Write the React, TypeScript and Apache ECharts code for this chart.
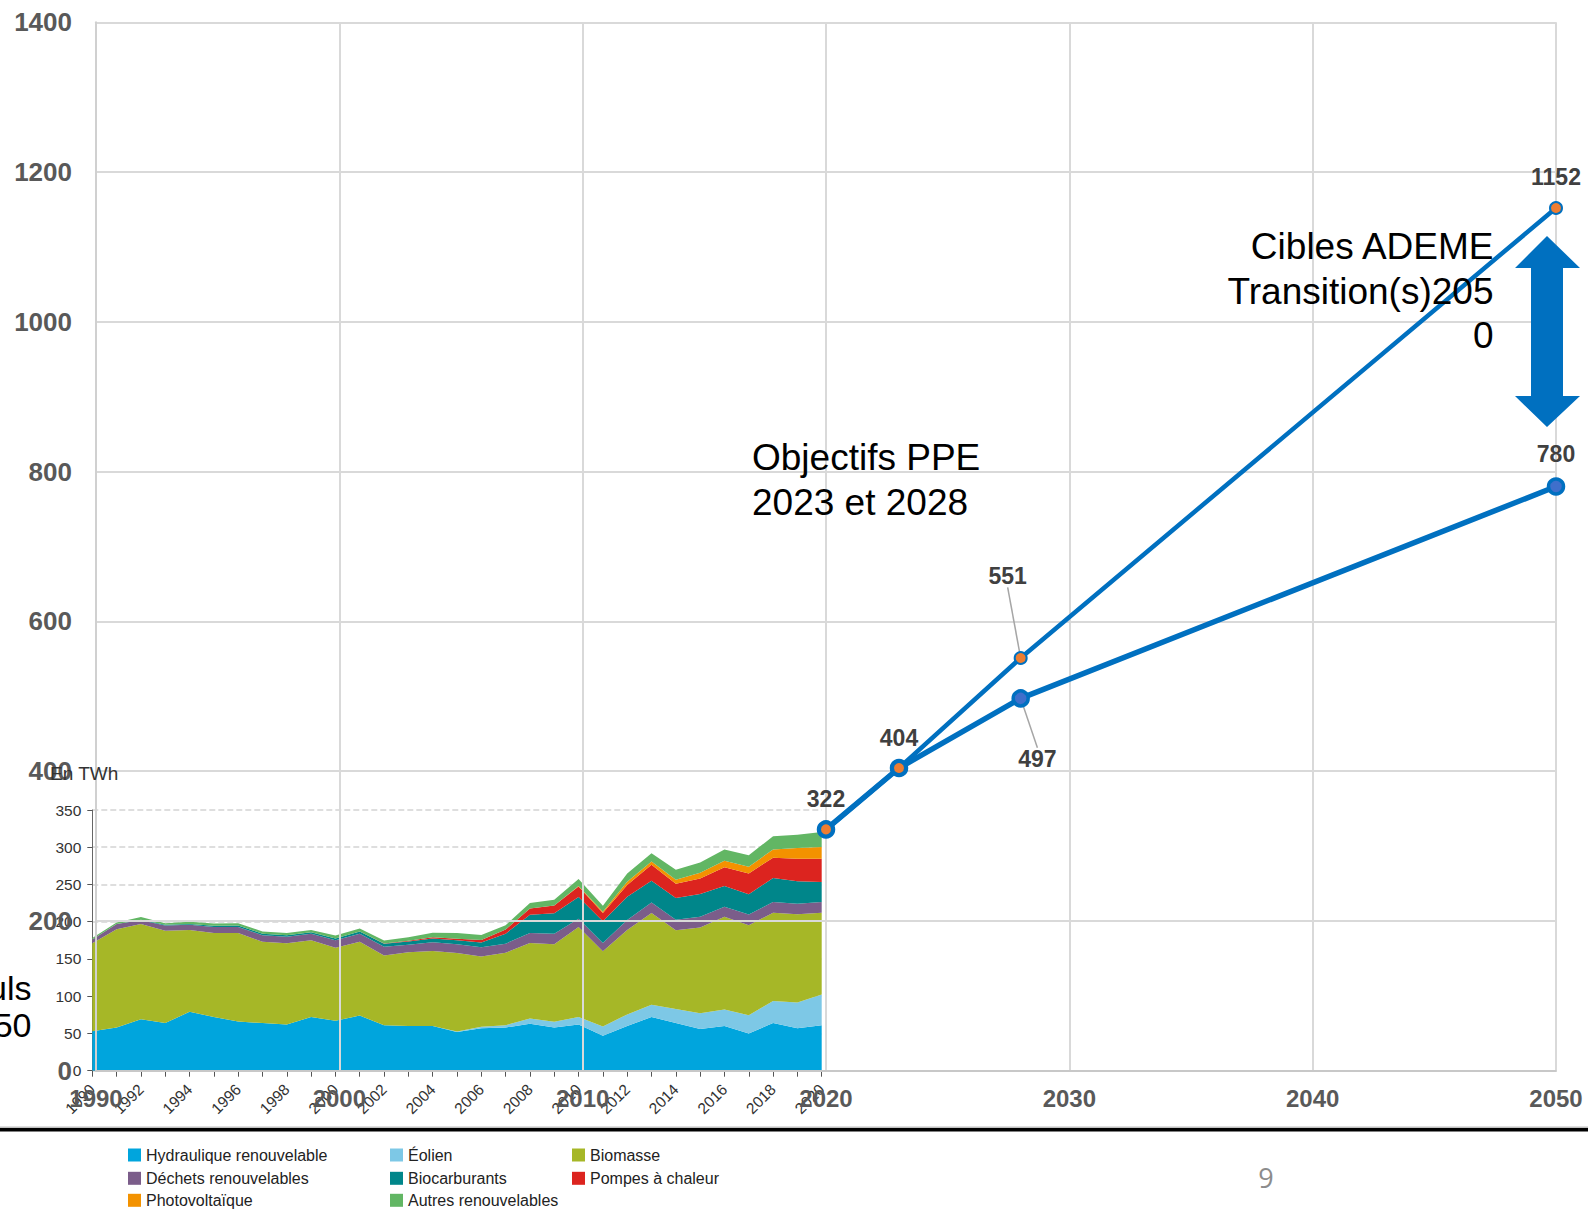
import React, { useEffect, useRef } from 'react';
import * as echarts from 'echarts';

// ---- Inset (historical production, TWh) ----
const insetYears = [
  '1990', '1991', '1992', '1993', '1994', '1995', '1996', '1997', '1998', '1999',
  '2000', '2001', '2002', '2003', '2004', '2005', '2006', '2007', '2008', '2009',
  '2010', '2011', '2012', '2013', '2014', '2015', '2016', '2017', '2018', '2019', '2020',
];
const hydraulique = [53, 58, 69, 64, 79, 72, 66, 64, 62, 72, 67, 74, 61, 60, 60, 52, 57, 58, 63, 58, 62, 47, 60, 72, 64, 56, 60, 50, 64, 57, 61];
const eolien = [0, 0, 0, 0, 0, 0, 0, 0, 0, 0, 0, 0, 0, 0, 0, 0.5, 2, 3, 7, 7.6, 10, 12.5, 15.6, 16.5, 18.8, 21, 22.3, 24.6, 29.6, 34.4, 41.2];
const biomasse = [118, 132, 128, 124, 110, 113, 119, 109, 109, 103, 98, 99, 93.5, 99, 100.6, 105.6, 94.2, 97.5, 101.5, 104.3, 120.8, 100.7, 113.2, 123.1, 105.6, 115.4, 124.4, 120.8, 118.5, 118.6, 110];
const dechets = [5, 7, 5, 7, 7, 8, 8, 9, 9, 9, 10, 11, 12, 10, 11.7, 11.6, 12.5, 12.1, 13.4, 13.8, 11.2, 11.2, 13.4, 14.3, 14.3, 14.3, 13.4, 14.3, 14.3, 14.3, 14.3];
const biocarburants = [0, 0, 0.5, 1, 1, 1.5, 2, 2, 2, 2, 2.5, 3, 4, 4.5, 5.3, 5.4, 6.3, 13.4, 24.6, 27.8, 29.1, 29.1, 31.4, 29.1, 29.1, 30.4, 27.8, 27.3, 32.2, 30, 26.9];
const pompes = [0, 0, 0, 0, 0, 0, 0, 0, 0, 0, 0, 0, 0.3, 0.8, 1.4, 2.2, 3.6, 5.4, 8.1, 10.3, 14.3, 11.2, 15.6, 21.5, 19.3, 21.1, 25.1, 27.8, 27.4, 30.4, 31.3];
const photovoltaique = [0, 0, 0, 0, 0, 0, 0, 0, 0, 0, 0, 0, 0, 0, 0, 0, 0, 0, 0, 0, 0.5, 1.8, 4.5, 4.4, 5.3, 7.6, 8.9, 8.9, 11.1, 14.3, 15.7];
const autres = [2, 2, 4, 2, 3, 3, 3, 3, 3, 3, 4, 4, 4, 5, 6.2, 7.6, 6.7, 5.8, 7.6, 7.6, 9.4, 8, 11.2, 11.2, 13.5, 13.8, 15.2, 15.7, 17.5, 17.9, 20.1];

const insetNames = [
  'Hydraulique renouvelable', 'Éolien', 'Biomasse', 'Déchets renouvelables',
  'Biocarburants', 'Pompes à chaleur', 'Photovoltaïque', 'Autres renouvelables',
];
const insetColors = ['#00A5DD', '#7DC8E6', '#A6B727', '#7B5D8A', '#00868A', '#DC241F', '#F39200', '#62B664'];
const insetValues = [hydraulique, eolien, biomasse, dechets, biocarburants, pompes, photovoltaique, autres];

// ---- Main (targets, TWh) ----
const mainYears = [2020, 2023, 2028, 2050];
const ademeHigh = [322, 404, 551, 1152];
const ademeLow = [322, 404, 497, 780];

const FONT = 'Liberation Sans, Arial, Helvetica, sans-serif';
const BLUE = '#0070C0';
const labelText = { fontSize: 23, fontWeight: 'bold', color: '#404040', fontFamily: FONT };

// legend grid: three columns, three rows (layout only)
const legendCols = [128, 390, 572];
const legendRows = [1147, 1170.3, 1192.3];

export default function App() {
  const ref = useRef<HTMLDivElement>(null);

  useEffect(() => {
    const chart = echarts.init(ref.current as HTMLDivElement, null, { renderer: 'svg' });

    const insetSeries = insetNames.map((name, i) => ({
      name,
      type: 'line',
      xAxisIndex: 1,
      yAxisIndex: 1,
      stack: 'total',
      symbol: 'none',
      showSymbol: false,
      z: 2,
      itemStyle: { color: insetColors[i] },
      lineStyle: { width: 0, color: insetColors[i] },
      areaStyle: { color: insetColors[i], opacity: 1 },
      data: insetValues[i],
    }));

    const highData = mainYears.map((y, i) => {
      if (i === 2) {
        return {
          value: [y, ademeHigh[i]],
          label: { show: true, position: [-6, -75], align: 'center', verticalAlign: 'middle', ...labelText },
          labelLine: { show: true, lineStyle: { color: '#a6a6a6', width: 1.5 } },
        };
      }
      return { value: [y, ademeHigh[i]], label: { show: true, position: 'top', distance: 12, ...labelText } };
    });

    const lowData = mainYears.map((y, i) => {
      if (i === 2) {
        return {
          value: [y, ademeLow[i]],
          label: { show: true, position: [26, 70], align: 'center', verticalAlign: 'middle', ...labelText },
          labelLine: { show: true, lineStyle: { color: '#a6a6a6', width: 1.5 } },
        };
      }
      if (i === 3) {
        return { value: [y, ademeLow[i]], label: { show: true, position: 'top', distance: 12, ...labelText } };
      }
      return { value: [y, ademeLow[i]], label: { show: false } };
    });

    // one legend per item, laid out row-major on a 3-column grid
    const legends = insetNames.map((name, i) => ({
      data: [name],
      left: legendCols[i % 3],
      top: legendRows[Math.floor(i / 3)],
      padding: 0,
      itemWidth: 13,
      itemHeight: 13,
      itemGap: 0,
      icon: 'rect',
      selectedMode: false,
      textStyle: { fontSize: 16, color: '#222', fontFamily: FONT },
    }));

    chart.setOption({
      animation: false,
      backgroundColor: '#ffffff',
      textStyle: { fontFamily: FONT },
      grid: [
        { left: 96, top: 22.3, width: 1460, height: 1048.2, containLabel: false },
        { left: 92.3, top: 810, width: 729.4, height: 260.7, containLabel: false },
      ],
      legend: legends,
      xAxis: [
        {
          gridIndex: 0,
          type: 'value',
          min: 1990,
          max: 2050,
          interval: 10,
          z: 3,
          axisLine: { show: true, lineStyle: { color: '#c8c8c8', width: 2 } },
          axisTick: { show: false },
          splitLine: { show: true, lineStyle: { color: '#d9d9d9', width: 2 } },
          axisLabel: {
            fontSize: 24, fontWeight: 'bold', color: '#595959', margin: 16, fontFamily: FONT,
            formatter: (v: number) => String(v),
          },
        },
        {
          gridIndex: 1,
          type: 'category',
          data: insetYears,
          boundaryGap: false,
          axisLine: { show: true, lineStyle: { color: '#999', width: 1 } },
          axisTick: { show: true, interval: 0, length: 6, lineStyle: { color: '#555' } },
          axisLabel: { interval: 1, rotate: 45, fontSize: 15.5, color: '#333', margin: 16, fontFamily: FONT },
          splitLine: { show: false },
        },
      ],
      yAxis: [
        {
          gridIndex: 0,
          type: 'value',
          min: 0,
          max: 1400,
          interval: 200,
          z: 3,
          axisLine: { show: true, lineStyle: { color: '#d0d0d0', width: 2 } },
          axisTick: { show: false },
          splitLine: { show: true, lineStyle: { color: '#d9d9d9', width: 2 } },
          axisLabel: {
            fontSize: 26, fontWeight: 'bold', color: '#595959', margin: 24, fontFamily: FONT,
            formatter: (v: number) => String(v),
          },
        },
        {
          gridIndex: 1,
          type: 'value',
          min: 0,
          max: 350,
          interval: 50,
          axisLine: { show: true, lineStyle: { color: '#666', width: 1 } },
          axisTick: { show: true, length: 5, lineStyle: { color: '#555' } },
          splitLine: { show: true, lineStyle: { color: '#d4d4d4', type: 'dashed', width: 1.5 } },
          axisLabel: { fontSize: 15.5, color: '#333', margin: 11, fontFamily: FONT },
        },
      ],
      series: [
        ...insetSeries,
        {
          name: 'Cible basse',
          type: 'line',
          xAxisIndex: 0,
          yAxisIndex: 0,
          z: 5,
          clip: false,
          symbol: 'circle',
          symbolSize: 15,
          lineStyle: { color: BLUE, width: 5.5 },
          itemStyle: { color: '#3F6FCB', borderColor: BLUE, borderWidth: 3.5 },
          labelLine: { show: false },
          data: lowData,
        },
        {
          name: 'Cible haute',
          type: 'line',
          xAxisIndex: 0,
          yAxisIndex: 0,
          z: 6,
          clip: false,
          symbol: 'circle',
          symbolSize: 12,
          lineStyle: { color: BLUE, width: 4.5 },
          itemStyle: { color: '#ED7D31', borderColor: BLUE, borderWidth: 2 },
          labelLine: { show: false },
          data: highData,
        },
      ],
      graphic: [
        {
          type: 'text',
          z: 10,
          style: {
            text: 'Objectifs PPE\n2023 et 2028', x: 752, y: 480, fill: '#000',
            fontSize: 37, fontFamily: FONT, lineHeight: 44.5, align: 'left', verticalAlign: 'middle',
          },
        },
        {
          type: 'text',
          z: 10,
          style: {
            text: 'Cibles ADEME\nTransition(s)205\n0', x: 1493.5, y: 291, fill: '#000',
            fontSize: 37, fontFamily: FONT, lineHeight: 44.2, align: 'right', verticalAlign: 'middle',
          },
        },
        {
          type: 'text',
          z: 10,
          style: {
            text: 'uls\n50', x: 31.5, y: 1006.5, fill: '#000',
            fontSize: 34, fontFamily: FONT, lineHeight: 37, align: 'right', verticalAlign: 'middle',
          },
        },
        {
          type: 'text',
          z: 10,
          style: {
            text: 'En TWh', x: 50, y: 773, fill: '#333',
            fontSize: 19, fontFamily: FONT, align: 'left', verticalAlign: 'middle',
          },
        },
        {
          type: 'polygon',
          z: 10,
          shape: {
            points: [
              [1547, 236], [1580, 268], [1563, 268], [1563, 396], [1580, 396],
              [1547, 427], [1515, 396], [1531, 396], [1531, 268], [1515, 268],
            ],
          },
          style: { fill: BLUE },
        },
        { type: 'rect', z: 10, shape: { x: 0, y: 1126.5, width: 1588, height: 1.6 }, style: { fill: '#c0c0c0' } },
        { type: 'rect', z: 10, shape: { x: 0, y: 1128, width: 1588, height: 3.6 }, style: { fill: '#000' } },
        {
          type: 'text',
          z: 10,
          style: {
            text: '9', x: 1266, y: 1177, fill: '#8c8c8c',
            fontSize: 27, fontFamily: 'Open Sans, ' + FONT, align: 'center', verticalAlign: 'middle',
          },
        },
      ],
    });

    return () => chart.dispose();
  }, []);

  return (
    <div
      ref={ref}
      style={{ position: 'fixed', left: 0, top: 0, width: 1588, height: 1209, background: '#fff' }}
    />
  );
}
